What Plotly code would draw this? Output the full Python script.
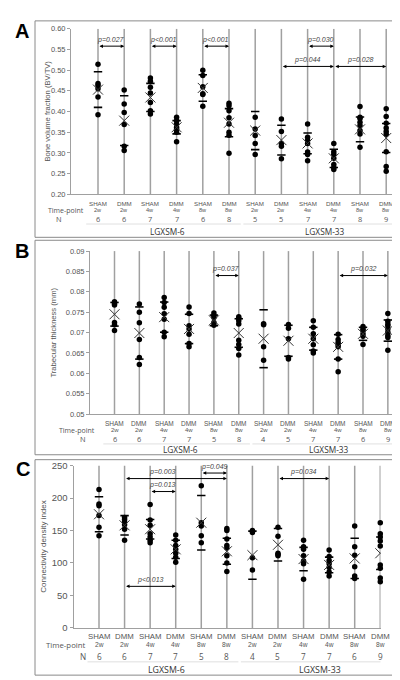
import plotly.graph_objects as go

W, H = 400, 680

# ---------------- data ----------------
categories = ["SHAM", "DMM", "SHAM", "DMM", "SHAM", "DMM",
              "SHAM", "DMM", "SHAM", "DMM", "SHAM", "DMM"]
timepoints = ["2w", "2w", "4w", "4w", "8w", "8w",
              "2w", "2w", "4w", "4w", "8w", "8w"]
groups = ["LGXSM-6", "LGXSM-33"]

# Panel A: Bone volume fraction (BV/TV)
A_n = [6, 6, 7, 7, 6, 8, 5, 5, 7, 7, 8, 9]
A_points = [
    [0.514, 0.468, 0.463, 0.455, 0.435, 0.392],
    [0.452, 0.418, 0.398, 0.369, 0.316, 0.306],
    [0.481, 0.473, 0.459, 0.445, 0.422, 0.402, 0.394],
    [0.386, 0.378, 0.370, 0.362, 0.357, 0.350, 0.327],
    [0.500, 0.487, 0.460, 0.443, 0.441, 0.413],
    [0.420, 0.414, 0.402, 0.385, 0.370, 0.350, 0.343, 0.299],
    [0.386, 0.358, 0.342, 0.323, 0.296],
    [0.382, 0.352, 0.323, 0.316, 0.286],
    [0.370, 0.338, 0.330, 0.323, 0.302, 0.296, 0.281],
    [0.323, 0.303, 0.297, 0.287, 0.272, 0.265, 0.260],
    [0.412, 0.386, 0.383, 0.374, 0.366, 0.354, 0.346, 0.314],
    [0.407, 0.388, 0.372, 0.360, 0.352, 0.345, 0.303, 0.267, 0.256],
]
A_mean = [0.453, 0.378, 0.434, 0.362, 0.457, 0.373, 0.354, 0.331, 0.323, 0.287, 0.357, 0.336]
A_sd = [0.043, 0.060, 0.034, 0.016, 0.032, 0.034, 0.046, 0.036, 0.025, 0.022, 0.030, 0.035]
A_tickvals = [0.20, 0.25, 0.30, 0.35, 0.40, 0.45, 0.50, 0.55, 0.60]
A_ticktext = ["0.20", "0.25", "0.30", "0.35", "0.40", "0.45", "0.50", "0.55", "0.60"]
# (label, from category, to category, y level, label centre category)
A_pvals = [
    ("p=0.027", 0, 1, 0.558, 0.5),
    ("p<0.001", 2, 3, 0.558, 2.5),
    ("p<0.001", 4, 5, 0.558, 4.5),
    ("p=0.030", 8, 9, 0.558, 8.5),
    ("p=0.044", 7, 9, 0.509, 8.0),
    ("p=0.028", 9, 11, 0.509, 10.0),
]

# Panel B: Trabecular thickness (mm)
B_n = [6, 6, 7, 7, 5, 8, 4, 5, 7, 7, 6, 9]
B_points = [
    [0.0776, 0.0771, 0.0768, 0.0725, 0.0719, 0.0705],
    [0.0770, 0.0750, 0.0724, 0.0683, 0.0639, 0.0622],
    [0.0786, 0.0774, 0.0762, 0.0746, 0.0733, 0.0701, 0.0690],
    [0.0763, 0.0747, 0.0717, 0.0709, 0.0696, 0.0673, 0.0665],
    [0.0748, 0.0742, 0.0737, 0.0725, 0.0718],
    [0.0739, 0.0735, 0.0729, 0.0721, 0.0681, 0.0671, 0.0661, 0.0645],
    [0.0722, 0.0719, 0.0665, 0.0632],
    [0.0720, 0.0711, 0.0685, 0.0639, 0.0635],
    [0.0729, 0.0713, 0.0697, 0.0685, 0.0670, 0.0655, 0.0650],
    [0.0696, 0.0683, 0.0676, 0.0670, 0.0665, 0.0635, 0.0604],
    [0.0715, 0.0709, 0.0705, 0.0697, 0.0691, 0.0671],
    [0.0747, 0.0728, 0.0721, 0.0717, 0.0709, 0.0701, 0.0693, 0.0688, 0.0657],
]
B_mean = [0.0745, 0.0699, 0.0738, 0.0709, 0.0730, 0.0699, 0.0685, 0.0680, 0.0685, 0.0665, 0.0697, 0.0705]
B_sd = [0.0029, 0.0064, 0.0037, 0.0036, 0.0013, 0.0035, 0.0071, 0.0038, 0.0028, 0.0030, 0.0016, 0.0026]
B_tickvals = [0.05, 0.055, 0.06, 0.065, 0.07, 0.075, 0.08, 0.085, 0.09]
B_ticktext = ["0.05", "0.055", "0.06", "0.065", "0.07", "0.075", "0.08", "0.085", "0.09"]
B_pvals = [
    ("p=0.037", 4, 5, 0.0840, 4.5),
    ("p=0.032", 9, 11, 0.0840, 10.0),
]

# Panel C: Connectivity density index
C_n = [6, 6, 7, 7, 5, 8, 4, 5, 7, 7, 6, 9]
C_points = [
    [213, 191, 188, 173, 155, 142],
    [170, 167, 163, 159, 152, 135],
    [190, 166, 158, 145, 140, 135, 131],
    [143, 135, 127, 121, 115, 109, 101],
    [219, 162, 157, 142, 131],
    [153, 150, 137, 127, 123, 111, 100, 87],
    [150, 147, 108, 89],
    [155, 141, 115, 113, 111],
    [135, 125, 121, 111, 103, 99, 75],
    [120, 110, 104, 99, 93, 86, 80],
    [157, 125, 112, 94, 80, 76],
    [162, 145, 140, 134, 126, 97, 92, 77, 71],
]
C_mean = [175, 158, 152, 121, 162, 118, 112, 128, 106, 97, 107, 115]
C_sd = [27, 15, 15, 14, 42, 20, 37, 25, 18, 12, 31, 25]
C_tickvals = [0, 50, 100, 150, 200, 250]
C_ticktext = ["0", "50", "100", "150", "200", "250"]
C_pvals = [
    ("p=0.049", 4, 5, 238.5, 4.5),
    ("p=0.003", 1, 5, 230.0, 2.5),
    ("p=0.013", 2, 3, 210.0, 2.5),
    ("p<0.013", 1, 3, 64.0, 2.0),
    ("p=0.034", 7, 9, 230.0, 8.0),
]

# ---------------- layout geometry (pixels) ----------------
panels = [
    dict(letter="A", xa="x", ya="y", points=A_points, mean=A_mean, sd=A_sd, n=A_n,
         tv=A_tickvals, tt=A_ticktext, pvals=A_pvals, yr=(0.20, 0.60),
         title="Bone volume fraction (BV/TV)",
         left=63, right=388, top=15, bottom=183.3, cat0=90, step=26.2,
         box=(27, 7, 393, 227), lab=(14.5, 17.5), tx=40,
         r_cat=192.3, r_tp=199.4, r_n=208.0, r_sep=213.5, r_grp=221.5,
         tp_right=77, n_x=51, f_tick=7.5, f_cat=6.2, f_tp=5.6, f_n=7.4, f_grp=8.3,
         f_title=7.6, f_tpl=7.0),
    dict(letter="B", xa="x2", ya="y2", points=B_points, mean=B_mean, sd=B_sd, n=B_n,
         tv=B_tickvals, tt=B_ticktext, pvals=B_pvals, yr=(0.05, 0.09),
         title="Trabecular thickness (mm)",
         left=82, right=387, top=241, bottom=406.7, cat0=106.5, step=24.85,
         box=(27, 230, 393, 448), lab=(14.5, 240.5), tx=46,
         r_cat=416, r_tp=423.3, r_n=432.2, r_sep=437, r_grp=443,
         tp_right=88, n_x=75, f_tick=7.5, f_cat=6.5, f_tp=6, f_n=7.4, f_grp=8.3,
         f_title=7.6, f_tpl=7.0),
    dict(letter="C", xa="x3", ya="y3", points=C_points, mean=C_mean, sd=C_sd, n=C_n,
         tv=C_tickvals, tt=C_ticktext, pvals=C_pvals, yr=(0, 250),
         title="Connectivity density index",
         left=65.5, right=372.5, top=459, bottom=624, cat0=91, step=25.57,
         box=(27, 453, 393, 672), lab=(15, 462.5), tx=36,
         r_cat=632.8, r_tp=641.3, r_n=652.7, r_sep=658.5, r_grp=666.7,
         tp_right=79, n_x=75, f_tick=9.5, f_cat=7.8, f_tp=6.6, f_n=8.2, f_grp=8.8,
         f_title=8, f_tpl=7.8),
]

def fx(px):
    return px / W

def fy(py):
    return 1 - py / H

SANS = "Liberation Sans, Arial, sans-serif"
HUM = "Open Sans, Liberation Sans, sans-serif"
GREY = "#555555"
LINE = "#a0a0a0"

fig = go.Figure()
annotations = []
shapes = []
layout_axes = {}

for i, p in enumerate(panels):
    xname = "xaxis" if p["xa"] == "x" else "xaxis" + p["xa"][1:]
    yname = "yaxis" if p["ya"] == "y" else "yaxis" + p["ya"][1:]
    x0 = (p["left"] - p["cat0"]) / p["step"]
    x1 = (p["right"] - p["cat0"]) / p["step"]
    layout_axes[xname] = dict(
        domain=[fx(p["left"]), fx(p["right"])], range=[x0, x1], anchor=p["ya"],
        showline=True, linecolor=LINE, linewidth=1, ticks="", showticklabels=False,
        showgrid=False, zeroline=False, fixedrange=True)
    layout_axes[yname] = dict(
        domain=[fy(p["bottom"]), fy(p["top"])], range=list(p["yr"]), anchor=p["xa"],
        showline=True, linecolor=LINE, linewidth=1, ticks="outside", ticklen=3,
        tickcolor=LINE, tickvals=p["tv"], ticktext=p["tt"],
        tickfont=dict(family=SANS, size=p["f_tick"], color=GREY),
        showgrid=False, zeroline=False, fixedrange=True)

    # vertical category lines
    for c in range(len(categories)):
        shapes.append(dict(type="line", xref=p["xa"], yref=p["ya"], x0=c, x1=c,
                           y0=p["yr"][0], y1=p["yr"][1],
                           line=dict(color=LINE, width=1.5), layer="below"))

    # individual values
    xs, ys = [], []
    for c, vals in enumerate(p["points"]):
        xs += [c] * len(vals)
        ys += vals
    fig.add_trace(go.Scatter(x=xs, y=ys, mode="markers", xaxis=p["xa"], yaxis=p["ya"],
                             marker=dict(color="black", size=5.5), showlegend=False,
                             cliponaxis=False, hoverinfo="skip"))
    # SD ticks
    sx, sy = [], []
    for c, (m, s) in enumerate(zip(p["mean"], p["sd"])):
        sx += [c, c]
        sy += [m - s, m + s]
    fig.add_trace(go.Scatter(x=sx, y=sy, mode="markers", xaxis=p["xa"], yaxis=p["ya"],
                             marker=dict(symbol="line-ew", size=6,
                                         line=dict(color="black", width=1.6)),
                             showlegend=False, hoverinfo="skip"))
    # means
    fig.add_trace(go.Scatter(x=list(range(len(p["mean"]))), y=p["mean"], mode="markers",
                             xaxis=p["xa"], yaxis=p["ya"],
                             marker=dict(symbol="x-thin", size=10,
                                         line=dict(color="#333333", width=1)),
                             showlegend=False, hoverinfo="skip"))

    # significance arrows
    for lab, a, b, yv, tcx in p["pvals"]:
        annotations.append(dict(x=b, y=yv, ax=a, ay=yv, xref=p["xa"], yref=p["ya"],
                                axref=p["xa"], ayref=p["ya"], text="", showarrow=True,
                                arrowhead=2, startarrowhead=2, arrowside="end+start",
                                arrowsize=0.7, startarrowsize=0.7, arrowwidth=1,
                                arrowcolor="black"))
        annotations.append(dict(x=tcx, y=yv, xref=p["xa"], yref=p["ya"],
                                text="<i>" + lab + "</i>",
                                showarrow=False, yshift=6.5, borderpad=0,
                                font=dict(family=SANS, size=7, color="#444444")))

    # category rows
    for c, (cat, tp, nn) in enumerate(zip(categories, timepoints, p["n"])):
        annotations.append(dict(x=c, y=fy(p["r_cat"]), xref=p["xa"], yref="paper",
                                text=cat, showarrow=False, yanchor="middle", borderpad=0,
                                font=dict(family=SANS, size=p["f_cat"], color=GREY)))
        annotations.append(dict(x=c, y=fy(p["r_tp"]), xref=p["xa"], yref="paper",
                                text=tp, showarrow=False, yanchor="middle", borderpad=0,
                                font=dict(family=SANS, size=p["f_tp"], color=GREY)))
        annotations.append(dict(x=c, y=fy(p["r_n"]), xref=p["xa"], yref="paper",
                                text=str(nn), showarrow=False, yanchor="middle", borderpad=0,
                                font=dict(family=HUM, size=p["f_n"], color=GREY)))
    annotations.append(dict(x=fx(p["tp_right"]), y=fy(p["r_tp"]), xref="paper", yref="paper",
                            text="Time-point", showarrow=False, xanchor="right",
                            yanchor="middle", borderpad=0,
                            font=dict(family=HUM, size=p["f_tpl"], color=GREY)))
    annotations.append(dict(x=fx(p["n_x"]), y=fy(p["r_n"]), xref="paper", yref="paper",
                            text="N", showarrow=False, xanchor="center", yanchor="middle",
                            borderpad=0,
                            font=dict(family=HUM, size=p["f_n"], color=GREY)))
    # group separators and labels
    for g, gname in enumerate(groups):
        c0, c1 = g * 6, g * 6 + 5
        shapes.append(dict(type="line", xref=p["xa"], yref="paper", x0=c0 - 0.45, x1=c1 + 0.45,
                           y0=fy(p["r_sep"]), y1=fy(p["r_sep"]),
                           line=dict(color="#d8d8d8", width=0.8)))
        annotations.append(dict(x=(c0 + c1) / 2 + 0.15, y=fy(p["r_grp"]), xref=p["xa"],
                                yref="paper", text=gname, showarrow=False, yanchor="middle",
                                borderpad=0,
                                font=dict(family=HUM, size=p["f_grp"], color="#333333")))

    # y-axis title
    annotations.append(dict(x=fx(p["tx"]), y=fy((p["top"] + p["bottom"]) / 2), xref="paper",
                            yref="paper", text=p["title"], showarrow=False, textangle=-90,
                            xanchor="center", yanchor="middle",
                            font=dict(family=SANS, size=p["f_title"], color=GREY)))
    # panel border
    bx0, by0, bx1, by1 = p["box"]
    shapes.append(dict(type="rect", xref="paper", yref="paper", x0=fx(bx0), x1=fx(bx1),
                       y0=fy(by1), y1=fy(by0), line=dict(color="#8a8a8a", width=1)))
    # panel letter
    annotations.append(dict(x=fx(p["lab"][0]), y=fy(p["lab"][1]), xref="paper", yref="paper",
                            text="<b>" + p["letter"] + "</b>", showarrow=False,
                            xanchor="center", yanchor="middle",
                            font=dict(family=SANS, size=20, color="black")))

fig.update_layout(
    width=W, height=H, margin=dict(l=0, r=0, t=0, b=0),
    paper_bgcolor="white", plot_bgcolor="white",
    annotations=annotations, shapes=shapes, showlegend=False,
    **layout_axes,
)

fig.write_html("out.html", config={"displayModeBar": False})
